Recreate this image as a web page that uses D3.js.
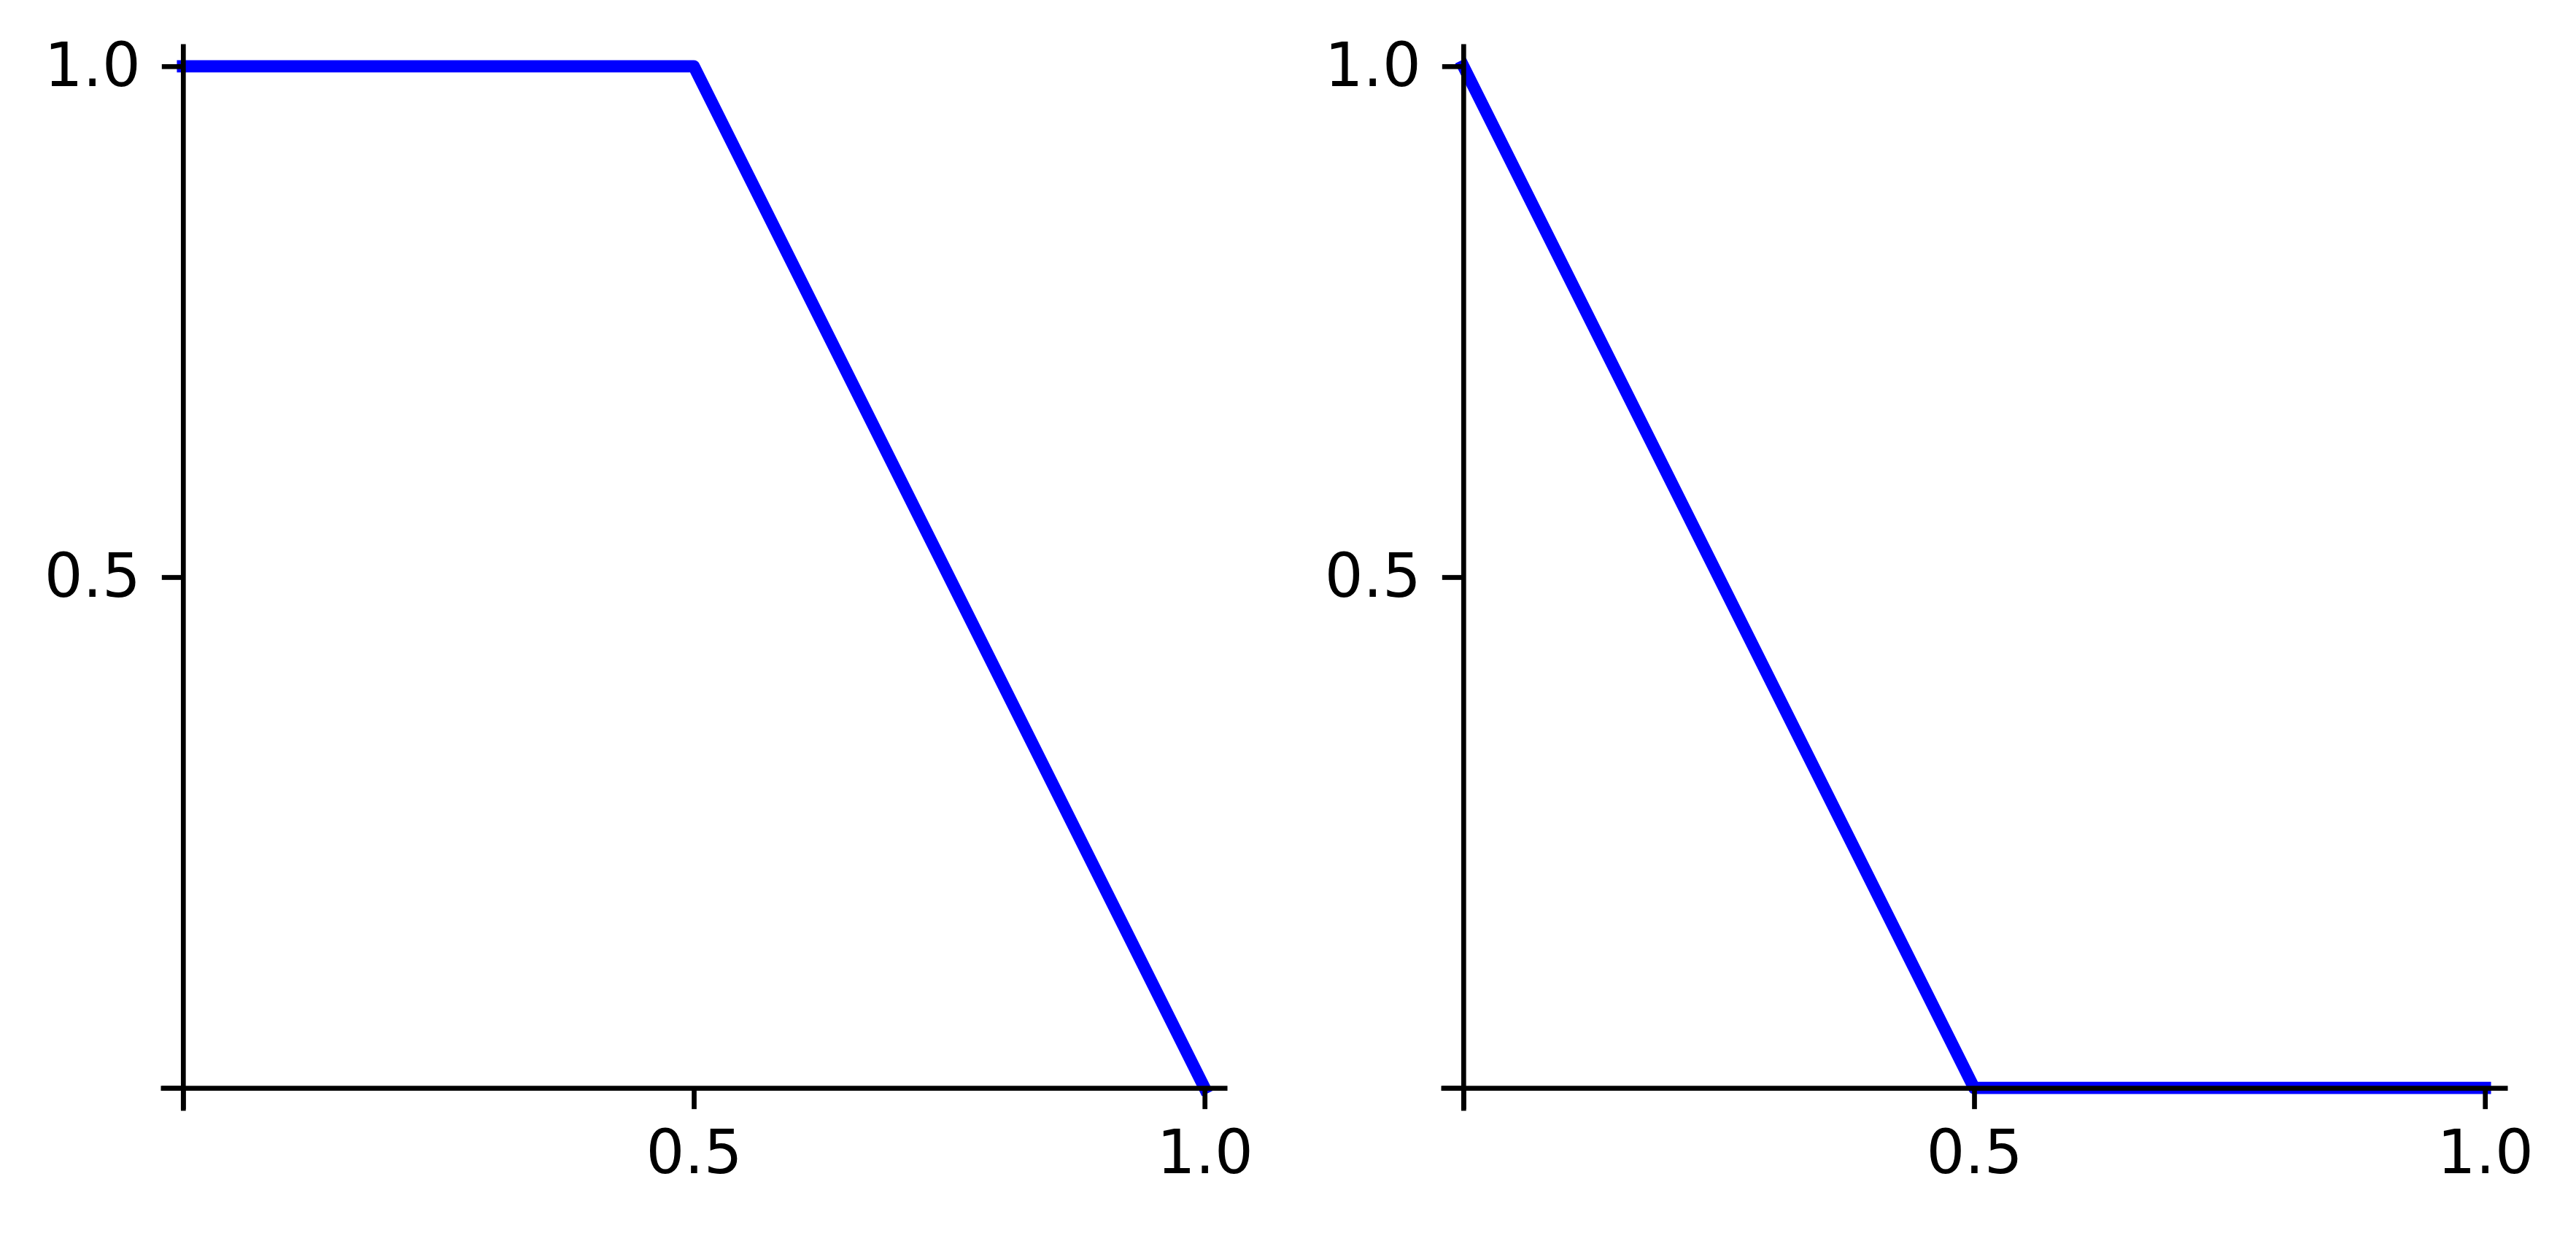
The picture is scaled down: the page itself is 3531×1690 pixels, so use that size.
<!DOCTYPE html>
<html>
<head>
<meta charset="utf-8">
<script src="https://cdn.jsdelivr.net/npm/d3@7"></script>
<style>
  body { margin: 0; background: #fff; }
  .axis text { font-family: "DejaVu Sans", sans-serif; font-size: 83px; fill: #000; }
  .axis path, .axis line { stroke: #000; stroke-width: 6.7px; }
</style>
</head>
<body>
<script>
const w = 3531;
const h = 1690;

// data for both panels
const xValues = [0, 0.5, 1];
const leftY = [1, 1, 0];
const rightY = [1, 0, 0];
const tickValues = [0, 0.5, 1];
const tickLabels = ["", "0.5", "1.0"];

const lim = [-0.022, 1.022];

const panels = [
  { y: leftY, left: 220, right: 1682 },
  { y: rightY, left: 1975, right: 3437 }
];
const plotTop = 60;
const plotBottom = 1522;

const svg = d3.select("body").append("svg").attr("width", w).attr("height", h);

panels.forEach(function (p) {
  const xScale = d3.scaleLinear().domain(lim).range([p.left, p.right]);
  const yScale = d3.scaleLinear().domain(lim).range([plotBottom, plotTop]);

  const line = d3.line()
    .x(function (d, i) { return xScale(xValues[i]); })
    .y(function (d) { return yScale(d); });

  svg.append("path")
    .datum(p.y)
    .attr("d", line)
    .attr("fill", "none")
    .attr("stroke", "#0000ff")
    .attr("stroke-width", 16.7)
    .attr("stroke-linecap", "square")
    .attr("stroke-linejoin", "round");

  const fmt = function (d) { return tickLabels[tickValues.indexOf(d)]; };

  const xAxis = d3.axisBottom(xScale)
    .tickValues(tickValues).tickFormat(fmt)
    .tickSizeInner(29).tickSizeOuter(0).tickPadding(29);
  const yAxis = d3.axisLeft(yScale)
    .tickValues(tickValues).tickFormat(fmt)
    .tickSizeInner(29).tickSizeOuter(0).tickPadding(29);

  svg.append("g")
    .attr("class", "axis")
    .attr("transform", "translate(0," + yScale(0) + ")")
    .call(xAxis);

  svg.append("g")
    .attr("class", "axis")
    .attr("transform", "translate(" + xScale(0) + ",0)")
    .call(yAxis);
});

svg.selectAll(".axis text").attr("font-family", null).attr("font-size", null);
svg.selectAll(".axis path, .axis line").attr("stroke", null);
</script>
</body>
</html>
